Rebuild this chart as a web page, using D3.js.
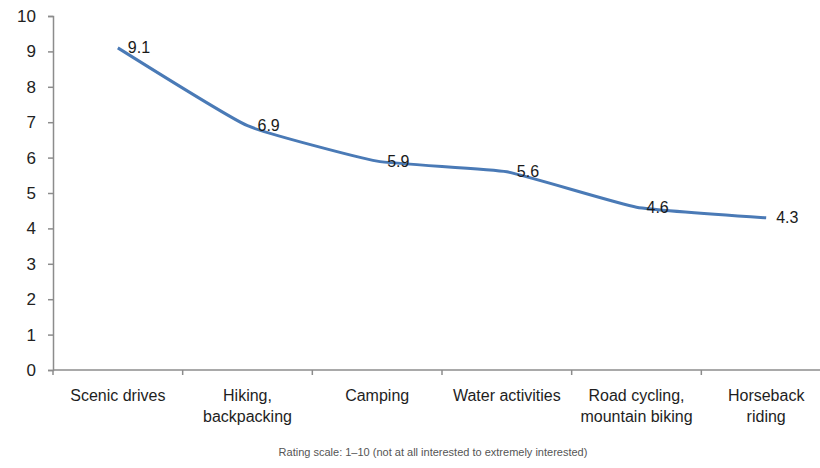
<!DOCTYPE html>
<html>
<head>
<meta charset="utf-8">
<script src="https://cdn.jsdelivr.net/npm/d3@7"></script>
<style>
  html, body { margin: 0; padding: 0; background: #fff; }
  svg { display: block; }
  text { font-family: "Liberation Sans", "DejaVu Sans", sans-serif; }
</style>
</head>
<body>
<svg id="chart" width="820" height="468"></svg>
<script>
// Interest in outdoor activities (mean rating)
const categories = [
  ["Scenic drives"],
  ["Hiking,", "backpacking"],
  ["Camping"],
  ["Water activities"],
  ["Road cycling,", "mountain biking"],
  ["Horseback", "riding"]
];
const ratings = [9.1, 6.9, 5.9, 5.6, 4.6, 4.3];
const yTicks = [0, 1, 2, 3, 4, 5, 6, 7, 8, 9, 10];
const footnote = "Rating scale: 1\u201310 (not at all interested to extremely interested)";

const svg = d3.select("#chart");
const plotLeft = 53, plotRight = 831, plotTop = 16, plotBottom = 370;

const keys = categories.map((c, i) => i);
const x = d3.scaleBand().domain(keys).range([plotLeft, plotRight]);
const y = d3.scaleLinear().domain([0, 10]).range([plotBottom, plotTop]);

const axisColor = "#8c8c8c";

// Y axis
const yAxis = svg.append("g")
  .attr("transform", `translate(${plotLeft},0)`)
  .call(d3.axisLeft(y).tickValues(yTicks).tickFormat(d3.format("d")).tickSize(5).tickPadding(12));
yAxis.select(".domain").attr("stroke", axisColor).attr("stroke-width", 1.5);
yAxis.selectAll(".tick line").attr("stroke", axisColor).attr("stroke-width", 1.5);
yAxis.selectAll(".tick text")
  .attr("font-size", 17).attr("fill", "#222")
  .attr("font-family", "Liberation Sans, sans-serif");

// X axis: ticks on category boundaries
const xg = svg.append("g").attr("transform", `translate(0,${plotBottom})`);
xg.append("line")
  .attr("x1", plotLeft).attr("x2", plotRight)
  .attr("stroke", axisColor).attr("stroke-width", 1.5);
const boundaries = keys.map(k => x(k)).concat([x(keys[keys.length - 1]) + x.bandwidth()]);
xg.selectAll("line.tk").data(boundaries).join("line")
  .attr("class", "tk")
  .attr("x1", d => d).attr("x2", d => d)
  .attr("y1", 0).attr("y2", 5)
  .attr("stroke", axisColor).attr("stroke-width", 1.5);

// Category labels
const catG = svg.append("g");
categories.forEach((lines, i) => {
  const t = catG.append("text")
    .attr("x", x(i) + x.bandwidth() / 2)
    .attr("y", 401)
    .attr("text-anchor", "middle")
    .attr("font-size", 16)
    .attr("fill", "#1e1e1e");
  lines.forEach((ln, j) => {
    t.append("tspan")
      .attr("x", x(i) + x.bandwidth() / 2)
      .attr("dy", j === 0 ? 0 : 21)
      .text(ln);
  });
});

// Smoothed rating line
const line = d3.line()
  .x((d, i) => x(i) + x.bandwidth() / 2)
  .y(d => y(d))
  .curve(d3.curveCardinal.tension(0.6));

svg.append("path")
  .datum(ratings)
  .attr("d", line)
  .attr("fill", "none")
  .attr("stroke", "#4a7ab6")
  .attr("stroke-width", 3)
  .attr("stroke-linecap", "butt");

// Value labels to the right of each point
svg.append("g").selectAll("text").data(ratings).join("text")
  .attr("x", (d, i) => x(i) + x.bandwidth() / 2 + 10)
  .attr("y", d => y(d))
  .attr("dy", "0.35em")
  .attr("font-size", 16)
  .attr("fill", "#1a1a1a")
  .text(d => d3.format(".1f")(d));

// Footnote
svg.append("text")
  .attr("x", 433)
  .attr("y", 456)
  .attr("text-anchor", "middle")
  .attr("font-size", 11)
  .attr("fill", "#555")
  .text(footnote);
</script>
</body>
</html>
